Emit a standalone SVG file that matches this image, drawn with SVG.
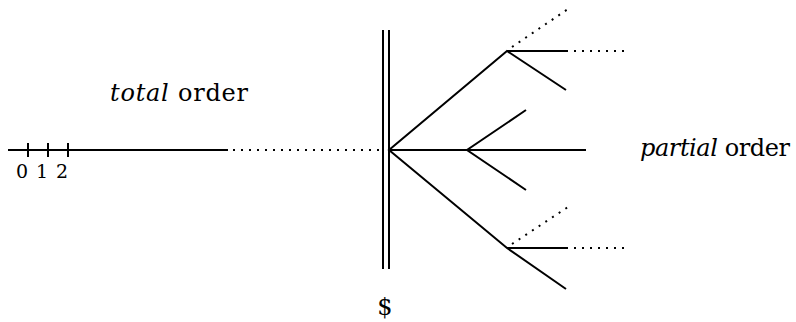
<svg xmlns="http://www.w3.org/2000/svg" width="796" height="322" viewBox="0 0 796 322">
<style>
.s{stroke:#000;stroke-width:2;fill:none}
.d{stroke:#000;stroke-width:2;fill:none;stroke-dasharray:2 6}
.t{fill:#000}
.i{font-style:italic}
</style>
<rect width="796" height="322" fill="#fff"/>
<g id="connectors">
<line class="s" x1="8" y1="150" x2="228" y2="150"/>
<line class="d" x1="233" y1="150" x2="385" y2="150"/>
<line class="s" x1="28" y1="143" x2="28" y2="157"/>
<line class="s" x1="48" y1="143" x2="48" y2="157"/>
<line class="s" x1="68" y1="143" x2="68" y2="157"/>
<line class="s" x1="383" y1="30" x2="383" y2="269"/>
<line class="s" x1="389" y1="30" x2="389" y2="269"/>
<polyline class="s" points="566,90 507,51 389,150 507,248 566,289"/>
<line class="s" x1="507" y1="51" x2="568" y2="51"/>
<line class="d" x1="574" y1="51" x2="624" y2="51"/>
<line class="d" x1="512" y1="47" x2="568" y2="9"/>
<line class="s" x1="507" y1="248" x2="568" y2="248"/>
<line class="d" x1="574" y1="248" x2="624" y2="248"/>
<line class="d" x1="512" y1="244" x2="568" y2="207"/>
<line class="s" x1="389" y1="150" x2="586" y2="150"/>
<polyline class="s" points="526,110 467,150 526,190"/>
</g>
<g id="labels">
<text class="t" x="110" y="101" font-family="DejaVu Serif, serif" font-size="24" textLength="138" lengthAdjust="spacing"><tspan class="i">total</tspan> order</text>
<text class="t" x="640" y="156" font-family="DejaVu Serif, serif" font-size="24" textLength="150" lengthAdjust="spacing"><tspan class="i">partial</tspan> order</text>
<text class="t" x="22" y="178" font-family="DejaVu Serif, serif" font-size="19" text-anchor="middle">0</text>
<text class="t" x="42" y="178" font-family="DejaVu Serif, serif" font-size="19" text-anchor="middle">1</text>
<text class="t" x="62" y="178" font-family="DejaVu Serif, serif" font-size="19" text-anchor="middle">2</text>
<text class="t" x="385" y="315" font-family="DejaVu Serif, serif" font-size="24" text-anchor="middle">$</text>
</g>
</svg>
